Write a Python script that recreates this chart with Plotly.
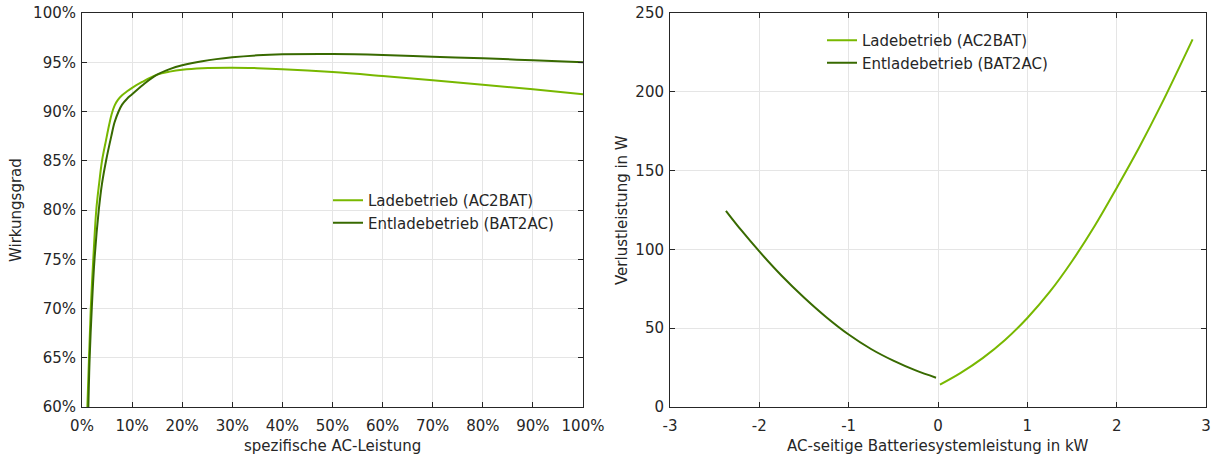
import plotly.graph_objects as go

# Left: efficiency vs specific AC power (%)
eff_x_charge = [1.07, 1.4, 1.75, 2.25, 2.85, 3.4, 4.0, 4.8, 5.4, 5.9, 6.5, 7.2, 8.0, 9.0, 10, 12, 15, 17.5, 20, 24, 30, 35, 40, 50, 60, 70, 80, 90, 100]
eff_y_charge = [60, 65, 70, 75, 80, 82.6, 85, 87.1, 88.6, 89.7, 90.6, 91.2, 91.65, 92.05, 92.4, 93.0, 93.74, 94.05, 94.25, 94.4, 94.45, 94.4, 94.3, 94.0, 93.6, 93.17, 92.72, 92.25, 91.75]
eff_x_discharge = [1.27, 1.53, 1.95, 2.5, 3.35, 4.0, 4.8, 5.85, 6.5, 7.3, 8.0, 9.0, 10, 12.5, 15, 17.5, 20, 24, 30, 35, 40, 50, 60, 70, 80, 90, 100]
eff_y_discharge = [60, 65, 70, 75, 80, 82.7, 85, 87.5, 88.9, 90.0, 90.7, 91.3, 91.75, 92.85, 93.74, 94.3, 94.69, 95.1, 95.5, 95.7, 95.8, 95.84, 95.74, 95.56, 95.4, 95.2, 95.0]

# Right: loss power vs AC battery system power (kW)
loss_x_charge = [0.022, 0.25, 0.5, 0.75, 1.0, 1.25, 1.5, 1.75, 2.0, 2.25, 2.5, 2.85]
loss_y_charge = [14.2, 21.5, 31, 42.5, 56.5, 73, 92.5, 114.5, 139, 164.5, 192, 233.3]
loss_x_discharge = [-2.374, -2.2, -2.0, -1.75, -1.5, -1.25, -1.0, -0.75, -0.5, -0.25, -0.022]
loss_y_discharge = [124.5, 112, 98.7, 83.3, 69.5, 57, 46, 36.8, 29.4, 23.2, 18.6]

name_charge = "Ladebetrieb (AC2BAT)"
name_discharge = "Entladebetrieb (BAT2AC)"
c_light = "#78B800"
c_dark = "#386A00"

left_xticks = list(range(0, 101, 10))
left_yticks = list(range(60, 101, 5))
right_xticks = [-3, -2, -1, 0, 1, 2, 3]
right_yticks = [0, 50, 100, 150, 200, 250]

W, H = 1215, 459
FONT = "DejaVu Sans"
FS = 15
TXT = "#262626"

fig = go.Figure()
fig.add_trace(go.Scatter(x=eff_x_charge, y=eff_y_charge, mode="lines", name=name_charge,
                         line=dict(color=c_light, width=2, shape="spline", smoothing=1),
                         xaxis="x", yaxis="y", legend="legend"))
fig.add_trace(go.Scatter(x=eff_x_discharge, y=eff_y_discharge, mode="lines", name=name_discharge,
                         line=dict(color=c_dark, width=2, shape="spline", smoothing=1),
                         xaxis="x", yaxis="y", legend="legend"))
fig.add_trace(go.Scatter(x=loss_x_charge, y=loss_y_charge, mode="lines", name=name_charge,
                         line=dict(color=c_light, width=2, shape="spline"), xaxis="x2", yaxis="y2", legend="legend2"))
fig.add_trace(go.Scatter(x=loss_x_discharge, y=loss_y_discharge, mode="lines", name=name_discharge,
                         line=dict(color=c_dark, width=2, shape="spline"), xaxis="x2", yaxis="y2", legend="legend2"))

ax_common = dict(showline=True, linecolor=TXT, linewidth=1, mirror="allticks", ticks="inside",
                 ticklen=5, tickcolor=TXT, showgrid=True, gridcolor="#e5e5e5", gridwidth=1,
                 zeroline=False, automargin=False, tickfont=dict(family=FONT, size=FS, color=TXT))
x_extra = dict(ticklabelstandoff=5)
y_extra = dict(ticklabelstandoff=2)

ydom = [52 / H, 446 / H]
fig.update_layout(
    width=W, height=H, margin=dict(l=0, r=0, t=0, b=0, pad=0),
    paper_bgcolor="white", plot_bgcolor="white",
    font=dict(family=FONT, size=FS, color=TXT),
    xaxis=dict(domain=[82 / W, 583 / W], range=[0, 100], tickvals=left_xticks,
               ticktext=[f"{v}%" for v in left_xticks], anchor="y", **ax_common, **x_extra),
    yaxis=dict(domain=ydom, range=[60, 100], tickvals=left_yticks,
               ticktext=[f"{v}%" for v in left_yticks], anchor="x", **ax_common, **y_extra),
    xaxis2=dict(domain=[670 / W, 1206 / W], range=[-3, 3], tickvals=right_xticks,
                ticktext=[str(v) for v in right_xticks], anchor="y2", **ax_common, **x_extra),
    yaxis2=dict(domain=ydom, range=[0, 250], tickvals=right_yticks,
                ticktext=[str(v) for v in right_yticks], anchor="x2", **ax_common, **y_extra),
    legend=dict(x=328 / W, y=1 - 184 / H, xanchor="left", yanchor="top", bgcolor="rgba(0,0,0,0)",
                font=dict(family=FONT, size=FS, color=TXT), tracegroupgap=0),
    legend2=dict(x=822 / W, y=1 - 24 / H, xanchor="left", yanchor="top", bgcolor="rgba(0,0,0,0)",
                 font=dict(family=FONT, size=FS, color=TXT), tracegroupgap=0),
    annotations=[
        dict(text="Wirkungsgrad", x=16 / W, y=1 - 210 / H, xref="paper", yref="paper", textangle=-90,
             xanchor="center", yanchor="middle", showarrow=False, font=dict(family=FONT, size=FS, color=TXT)),
        dict(text="spezifische AC-Leistung", x=332 / W, y=1 - 446 / H, xref="paper", yref="paper",
             xanchor="center", yanchor="middle", showarrow=False, font=dict(family=FONT, size=FS, color=TXT)),
        dict(text="Verlustleistung in W", x=622 / W, y=1 - 210 / H, xref="paper", yref="paper", textangle=-90,
             xanchor="center", yanchor="middle", showarrow=False, font=dict(family=FONT, size=FS, color=TXT)),
        dict(text="AC-seitige Batteriesystemleistung in kW", x=938 / W, y=1 - 446 / H, xref="paper", yref="paper",
             xanchor="center", yanchor="middle", showarrow=False, font=dict(family=FONT, size=FS, color=TXT)),
    ],
)

fig.write_html("out.html")
